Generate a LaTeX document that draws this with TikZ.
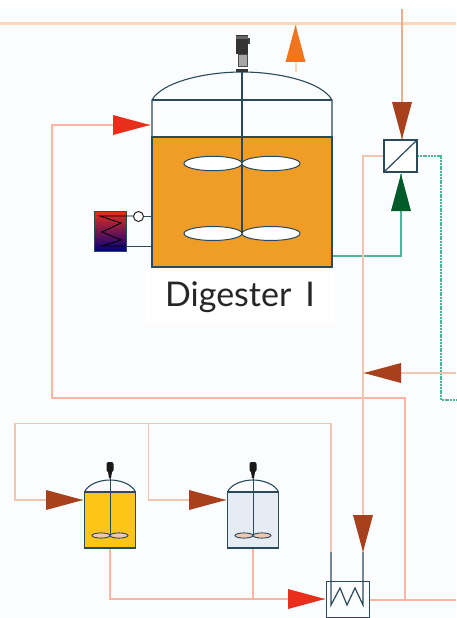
\documentclass[tikz,border=0pt]{standalone}
\usepackage{fontspec}
\setmainfont{Lato}
\usetikzlibrary{calc}
\definecolor{bgc}{HTML}{FBFCFE}
\definecolor{steam}{HTML}{FDD8B8}
\definecolor{pink}{HTML}{FDB4A2}
\definecolor{tan}{HTML}{F2C6AE}
\definecolor{brownl}{HTML}{E8B090}
\definecolor{teal}{HTML}{4FB59A}
\definecolor{steel}{HTML}{2A4A5C}
\definecolor{liquid}{HTML}{F09D27}
\definecolor{yel}{HTML}{FDC617}
\definecolor{pale}{HTML}{E6ECF4}
\definecolor{redh}{HTML}{E92E1C}
\definecolor{brownh}{HTML}{A8401E}
\definecolor{orgh}{HTML}{F0751E}
\definecolor{grnh}{HTML}{035A2B}
\tikzset{
  x=1pt,y=-1pt,
  head/.pic={\fill[pic actions] (0,0)--(-37,-10)--(-37,10)--cycle;},
  steampipe/.style={draw=steam,line width=3pt},
  hotpipe/.style={draw=pink,line width=1.7pt},
  thinpipe/.style={draw=tan,line width=1.1pt},
  greenpipe/.style={draw=teal,line width=1.1pt},
  vessel/.style={draw=steel,line width=1.1pt},
  paddle/.style={draw=steel,line width=1pt,fill=white},
  smallpaddle/.style={draw=steel,line width=.9pt,fill=#1},
}
\begin{document}
\begin{tikzpicture}
\useasboundingbox (0,0) rectangle (456,618);
\fill[bgc] (0,8) rectangle (456,618);
% named points
\coordinate (topL) at (0,23.5); \coordinate (topR) at (456,23.5);
\coordinate (inD) at (150,125);
\coordinate (bendA) at (52,125); \coordinate (bendB) at (52,398); \coordinate (bendC) at (405,398); \coordinate (bendD) at (405,600);
\coordinate (rightE) at (456,600);
\coordinate (sepT) at (402,9); \coordinate (sepTip) at (402,139);
\coordinate (sepB) at (401,174);
\coordinate (gr1) at (333,256); \coordinate (gr2) at (401,256);
\coordinate (sepL) at (384,156); \coordinate (l1) at (363,156); \coordinate (l2) at (363,552);
\coordinate (sepR) at (417,156); \coordinate (r1) at (441,156); \coordinate (r2) at (441,400); \coordinate (r3) at (456,400);
\coordinate (retR) at (456,373); \coordinate (retTip) at (364,373);
\coordinate (t1) at (15,423.5); \coordinate (t2) at (331,423.5); \coordinate (t3) at (331,552);
\coordinate (t4) at (15,500); \coordinate (in1) at (83,500);
\coordinate (b1) at (148.5,423.5); \coordinate (b2) at (148.5,500); \coordinate (in2) at (226,500);
\coordinate (o1) at (110,548); \coordinate (o2) at (110,599); \coordinate (o3) at (253,548); \coordinate (o4) at (253,599);
\coordinate (hxIn) at (325,599);
\coordinate (hxOut) at (369,600);
\coordinate (vap1) at (295.5,72); \coordinate (vap2) at (295.5,25);
% pipes
\path[steampipe] (topL) -- (topR);
\path[draw=steam,line width=2pt] (vap1) -- (vap2);
\path[hotpipe] (inD) -- (bendA) -- (bendB) -- (bendC) -- (bendD);
\path[hotpipe] (hxOut) -- (rightE);
\path[draw=brownl,line width=1.2pt] (sepT) -- (sepTip);
\path[greenpipe] (gr1) -- (gr2) -- (sepB);
\path[thinpipe,line width=1.3pt] (sepL) -- (l1) -- (l2);
\path[greenpipe,dashed,dash pattern=on 2pt off .8pt] (sepR) -- (r1) -- (r2) -- (r3);
\path[thinpipe] (retR) -- (retTip);
\path[thinpipe] (in1) -- (t4) -- (t1) -- (t2) -- (t3);
\path[thinpipe] (b1) -- (b2) -- (in2);
\path[hotpipe] (o1) -- (o2) -- (hxIn);
\path[hotpipe,line width=1.3pt] (o3) -- (o4);
% digester
\fill[liquid] (152,137) rectangle (332,267);
\draw[vessel] (152,137) -- (152,267) -- (332,267) -- (332,137) -- cycle;
\draw[vessel] (152,137) -- (152,100) .. controls (162,82) and (205,72) .. (242,72) .. controls (279,72) and (322,82) .. (332,100) -- (332,137);
\draw[vessel] (152,100) -- (332,100);
\draw[vessel] (242,72) -- (242,233);
\draw[paddle] (213,163.5) ellipse [x radius=29,y radius=7.2];
\draw[paddle] (271,163.5) ellipse [x radius=29,y radius=7.2];
\draw[paddle] (213,233.5) ellipse [x radius=29,y radius=7];
\draw[paddle] (271,233.5) ellipse [x radius=29,y radius=7];
% motor
\fill[black!80] (236,35) rectangle (248,54);
\fill[black!75] (248,38) rectangle (250,44);
\fill[black!60] (236,36) rectangle (248,39);
\fill[gray!70] (238,54) rectangle (247,66);
\draw[black!70,line width=.8pt] (238,54) rectangle (247,66);
\fill[black!80] (236,69) rectangle (248,72);
% heater
\shade[top color=redh,middle color=purple!70!black,bottom color=blue!50!black] (94,211) rectangle (126,251);
\draw[steel,line width=.8pt] (94,211) rectangle (126,251);
\draw[black,line width=.9pt] (133,216) -- (100,216) -- (121,223) -- (102,232) -- (121,240) -- (102,246) -- (126,246);
\draw[steel,line width=1pt] (143,216.5) -- (152,216.5);
\draw[steel,line width=1pt] (126,246) -- (152,246);
\draw[black!85,line width=1pt,fill=white] (138.5,216.5) circle (5);
% separator
\draw[steel,line width=1.2pt,fill=white] (384,140) rectangle (417,172);
\draw[steel,line width=1.2pt] (384,172) -- (417,140);
% small tanks
\foreach \cx/\fc/\pc in {110/yel/tan,253/pale/tan}{
  \fill[\fc] (\cx-25.5,492) rectangle (\cx+25.5,548);
  \draw[vessel] (\cx-25.5,492) -- (\cx-25.5,548) -- (\cx+25.5,548) -- (\cx+25.5,492) -- cycle;
  \draw[vessel] (\cx-25.5,492) .. controls (\cx-22,484) and (\cx-10,480) .. (\cx,480) .. controls (\cx+10,480) and (\cx+22,484) .. (\cx+25.5,492);
  \draw[vessel,line width=.9pt] (\cx,472) -- (\cx,535);
  \draw[smallpaddle=\pc] (\cx-9,535.5) ellipse [x radius=9,y radius=2.6];
  \draw[smallpaddle=\pc] (\cx+9,535.5) ellipse [x radius=9,y radius=2.6];
  \fill[black!90,rounded corners=2pt] (\cx-3.5,462) rectangle (\cx+3.5,472);
  \fill[black!90] (\cx-2,472) -- (\cx+2,472) -- (\cx+1,478) -- (\cx-1,478) -- cycle;
}
% heat exchanger
\draw[steel,line width=1pt,fill=bgc] (326,581) rectangle (369,617);
\draw[steel,line width=1.2pt] (t3) -- (331,605) -- (340,588) -- (347,605) -- (355,588) -- (363,605) -- (l2);
% arrowheads
\pic[fill=orgh,rotate=90] at (vap2) {head};
\pic[fill=redh] at (inD) {head};
\pic[fill=brownh,rotate=-90] at (sepTip) {head};
\pic[fill=grnh,rotate=90] at (sepB) {head};
\pic[fill=brownh,rotate=180] at (retTip) {head};
\pic[fill=brownh] at (in1) {head};
\pic[fill=brownh] at (in2) {head};
\pic[fill=brownh,rotate=-90] at (l2) {head};
\pic[fill=redh] at (hxIn) {head};
% label
\node[fill=white,inner sep=0pt,minimum width=190,minimum height=52,font=\fontsize{34}{36}\selectfont,text=black!85] (digesterlabel) at (240,297) {Digester\hspace{14pt}I};
\end{tikzpicture}
\end{document}
